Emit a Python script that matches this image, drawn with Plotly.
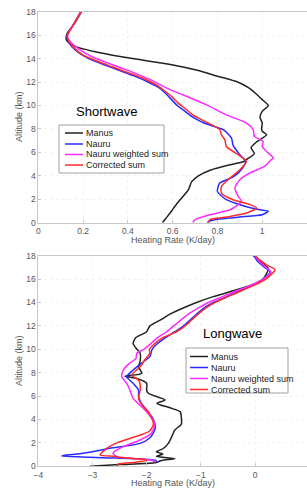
import plotly.graph_objects as go

series_names = ["Manus", "Nauru", "Nauru weighted sum", "Corrected sum"]
series_colors = ["#222222", "#2a2aff", "#ff2aff", "#ff2a2a"]

# ---------------- Shortwave (K/day) ----------------
sw_manus_alt = [0, 0.1, 0.5, 1, 1.4, 2, 2.8, 3.5, 4, 4.5, 4.95, 5.2, 5.4, 5.9, 6.4, 6.9, 7.5, 7.8, 8,
                8.5, 9, 9.5, 10, 10.5, 11, 11.5, 12, 12.5, 13, 13.5, 14, 14.5, 15, 15.5, 15.8, 16.2, 17, 18]
sw_manus = [0.555, 0.558, 0.575, 0.595, 0.61, 0.635, 0.67, 0.685, 0.715, 0.77, 0.856, 0.915, 0.93, 0.965,
            0.95, 0.975, 1.02, 1.0, 0.997, 1.0, 0.99, 1.0, 1.027, 1.0, 0.972, 0.94, 0.89, 0.8, 0.71, 0.59,
            0.42, 0.275, 0.17, 0.128, 0.124, 0.13, 0.162, 0.193]

sw_nauru_alt = [0, 0.1, 0.3, 0.48, 0.68, 0.97, 1.1, 1.45, 1.96, 2.67, 3.38, 3.9, 4.6, 5.23, 5.8, 6.6, 7.2,
                7.94, 8.5, 9, 9.5, 10, 10.5, 11, 11.5, 12, 12.5, 13, 13.5, 14, 14.5, 15, 15.5, 16, 17, 18]
sw_nauru = [0.755, 0.76, 0.8, 0.9, 1.0, 1.027, 0.99, 0.915, 0.84, 0.8, 0.81, 0.87, 0.91, 0.925, 0.9, 0.87,
            0.863, 0.826, 0.74, 0.69, 0.655, 0.62, 0.595, 0.57, 0.54, 0.49, 0.43, 0.36, 0.29, 0.225, 0.18,
            0.15, 0.132, 0.13, 0.16, 0.19]

sw_weighted_alt = [0, 0.26, 0.68, 1.1, 1.5, 1.82, 2.24, 2.96, 3.67, 4.24, 4.8, 5.37, 5.52, 6.08, 6.5, 6.94,
                   7.36, 7.94, 8.5, 9.2, 10.07, 10.9, 11.35, 12.2, 12.7, 13.2, 13.7, 14.2, 14.7, 15.2, 15.7,
                   16, 17, 18]
sw_weighted = [0.69, 0.7, 0.766, 0.856, 0.89, 0.908, 0.893, 0.878, 0.9, 0.945, 1.01, 1.04, 1.05, 1.02, 1.0,
               1.004, 0.965, 0.96, 0.93, 0.84, 0.75, 0.647, 0.588, 0.5, 0.44, 0.37, 0.3, 0.235, 0.19, 0.155,
               0.133, 0.13, 0.16, 0.19]

sw_corrected_alt = [0, 0.26, 0.48, 0.83, 1.25, 1.54, 1.96, 2.53, 3.1, 3.81, 4.52, 5.23, 5.8, 6.5, 7.08,
                    7.5, 7.94, 8.64, 9.2, 9.64, 10.2, 10.78, 11.3, 11.77, 12.3, 12.8, 13.3, 13.8, 14.3, 15,
                    15.5, 16, 17, 18]
sw_corrected = [0.76, 0.766, 0.84, 0.93, 0.975, 0.946, 0.87, 0.818, 0.818, 0.856, 0.9, 0.93, 0.893, 0.84,
                0.833, 0.818, 0.81, 0.744, 0.69, 0.662, 0.625, 0.595, 0.56, 0.525, 0.47, 0.4, 0.33, 0.26,
                0.2, 0.155, 0.135, 0.13, 0.16, 0.19]

# ---------------- Longwave (K/day) ----------------
lw_manus_alt = [0, 0.15, 0.3, 0.5, 0.65, 0.85, 1.05, 1.25, 1.5, 1.96, 2.5, 3.1, 3.6, 4.2, 4.67, 5.0, 5.38,
                5.67, 6.24, 6.5, 7.1, 7.5, 7.7, 7.95, 8.5, 9, 9.66, 10, 10.5, 11, 11.5, 12, 12.5, 13, 13.4,
                14, 14.5, 15, 15.5, 16, 16.9, 17.5, 18]
lw_manus = [-3.05, -2.5, -1.85, -1.72, -1.48, -1.82, -1.7, -1.82, -1.7, -1.6, -1.54, -1.48, -1.36, -1.36,
            -1.38, -1.57, -1.81, -1.66, -1.97, -2.0, -2.0, -2.18, -2.4, -2.09, -2.15, -2.12, -2.12, -2.18,
            -2.25, -2.2, -2.0, -1.94, -1.75, -1.57, -1.39, -1.08, -0.77, -0.4, -0.06, 0.15, 0.245, 0.1,
            -0.03]

lw_nauru_alt = [0.35, 0.5, 0.62, 0.72, 0.8, 0.88, 0.98, 1.1, 1.25, 1.54, 1.96, 2.4, 2.82, 3.3, 3.67, 4.2,
                4.8, 5.4, 5.95, 6.52, 7.1, 7.66, 8.23, 8.8, 9.37, 10, 10.5, 11, 11.5, 12, 12.5, 13, 13.5,
                14, 14.5, 15, 15.5, 16, 16.6, 17, 17.5, 18]
lw_nauru = [-1.82, -1.83, -2.1, -2.7, -3.2, -3.57, -3.45, -3.2, -3.0, -2.68, -2.12, -1.95, -1.88, -1.84,
            -1.85, -1.9, -2.0, -2.1, -2.15, -2.15, -2.25, -2.37, -2.25, -2.1, -1.94, -1.9, -1.8, -1.65,
            -1.48, -1.32, -1.2, -1.08, -0.95, -0.77, -0.52, -0.28, -0.03, 0.15, 0.28, 0.18, 0.05, -0.02]

lw_weighted_alt = [0.35, 0.45, 0.55, 0.65, 0.83, 1.11, 1.4, 1.68, 2.25, 2.82, 3.67, 4.8, 5.8, 6.52, 7.1,
                   7.66, 8.23, 8.8, 9.2, 9.66, 10, 10.5, 11, 11.5, 12, 12.5, 13, 13.5, 14, 14.5, 15, 15.5,
                   16, 16.6, 17, 17.5, 18]
lw_weighted = [-1.85, -1.88, -1.95, -2.2, -2.55, -2.62, -2.55, -2.43, -2.12, -1.91, -1.85, -2.03, -2.25,
               -2.31, -2.37, -2.46, -2.43, -2.32, -2.2, -2.18, -2.05, -1.92, -1.8, -1.63, -1.5, -1.37,
               -1.23, -1.06, -0.86, -0.6, -0.34, -0.06, 0.15, 0.3, 0.2, 0.08, 0.0]

lw_corrected_alt = [0, 0.2, 0.35, 0.5, 0.6, 0.75, 0.85, 0.97, 1.3, 1.7, 2.0, 2.4, 2.7, 3.0, 3.5, 3.8, 4.66,
                    5.2, 5.8, 6.52, 7.0, 7.38, 7.8, 8.5, 9.0, 9.66, 10, 10.5, 11, 11.5, 12, 12.5, 13, 13.5,
                    14, 14.5, 15, 15.5, 16, 16.8, 17.2, 17.6, 18]
lw_corrected = [-2.55, -2.52, -2.2, -2.0, -2.06, -2.45, -2.6, -2.86, -2.8, -2.68, -2.55, -2.3, -2.1, -1.95,
                -1.88, -1.88, -1.97, -2.08, -2.15, -2.12, -2.12, -2.15, -2.28, -2.12, -2.05, -1.94, -1.95,
                -1.85, -1.7, -1.45, -1.29, -1.17, -1.05, -0.92, -0.74, -0.5, -0.25, 0.0, 0.2, 0.37, 0.22,
                0.1, 0.0]

sw_ticks = [0, 0.2, 0.4, 0.6, 0.8, 1, 1.2]
sw_ticktext = ["0", "0.2", "0.4", "0.6", "0.8", "1", "1.2"]
lw_ticks = [-4, -3, -2, -1, 0]
alt_ticks = [0, 2, 4, 6, 8, 10, 12, 14, 16, 18]

W, H = 307, 488
FONT = "Liberation Sans, Arial, sans-serif"
fig = go.Figure()

sw = [(sw_manus_alt, sw_manus), (sw_nauru_alt, sw_nauru), (sw_weighted_alt, sw_weighted),
      (sw_corrected_alt, sw_corrected)]
lw = [(lw_manus_alt, lw_manus), (lw_nauru_alt, lw_nauru), (lw_weighted_alt, lw_weighted),
      (lw_corrected_alt, lw_corrected)]

for i, (a, v) in enumerate(sw):
    fig.add_trace(go.Scatter(x=v, y=a, mode="lines", name=series_names[i], showlegend=False,
                             line=dict(color=series_colors[i], width=1.5, shape="spline", smoothing=0.6),
                             xaxis="x", yaxis="y"))
for i, (a, v) in enumerate(lw):
    fig.add_trace(go.Scatter(x=v, y=a, mode="lines", name=series_names[i], showlegend=False,
                             line=dict(color=series_colors[i], width=1.5, shape="spline", smoothing=0.6),
                             xaxis="x2", yaxis="y2"))

axis_common = dict(showline=True, linecolor="#c8c8c8", linewidth=1, automargin=False,
                   ticks="inside", ticklen=3, tickcolor="#c8c8c8",
                   showgrid=True, gridcolor="#f3f3f3", griddash="dot", zeroline=False,
                   tickfont=dict(family=FONT, size=8.5, color="#555555"))


def px(x):
    return x / W


def py(y):
    return 1 - y / H


shapes = []
annotations = []


def note(text, x, y, size, color, angle=0, xanchor="center"):
    annotations.append(dict(text=text, x=px(x), y=py(y), xref="paper", yref="paper", showarrow=False,
                            xanchor=xanchor, yanchor="middle", textangle=angle,
                            font=dict(family=FONT, size=size, color=color)))


def add_legend(box, rows, line_x0, line_x1, text_x):
    x0, y0, x1, y1 = box
    shapes.append(dict(type="rect", xref="paper", yref="paper", x0=px(x0), x1=px(x1), y0=py(y1), y1=py(y0),
                       line=dict(color="#a0a0a0", width=1), fillcolor="white", layer="above"))
    for i, ry in enumerate(rows):
        shapes.append(dict(type="line", xref="paper", yref="paper", x0=px(line_x0), x1=px(line_x1),
                           y0=py(ry), y1=py(ry), line=dict(color=series_colors[i], width=1.5),
                           layer="above"))
        note(series_names[i], text_x, ry, 9, "#222222", xanchor="left")


add_legend((59, 125, 164, 173), [133, 144, 154.5, 165], 65, 83, 83.5)
add_legend((186, 348, 288, 393), [356.5, 367.5, 378.5, 389.5], 190, 208, 208.5)

note("Shortwave", 106, 111, 13, "black")
note("Longwave", 232, 333, 13, "black")
note("Heating Rate (K/day)", 172.5, 239.5, 9, "#555555")
note("Heating Rate (K/day)", 172.5, 483, 9, "#555555")
note("Altitude (km)", 19, 117, 9, "#555555", angle=-90)
note("Altitude (km)", 19, 361, 9, "#555555", angle=-90)

fig.update_layout(
    width=W, height=H, margin=dict(l=0, r=0, t=0, b=0, autoexpand=False),
    paper_bgcolor="white", plot_bgcolor="white", showlegend=False,
    xaxis=dict(domain=[px(38.33), 1.0], range=[0, 1.2], tickvals=sw_ticks, ticktext=sw_ticktext,
               anchor="y", mirror=True, **axis_common),
    yaxis=dict(domain=[py(222.7), py(11.7)], range=[0, 18], tickvals=alt_ticks, anchor="x", mirror=False,
               **axis_common),
    xaxis2=dict(domain=[px(38.33), 1.0], range=[-4, 0.96], tickvals=lw_ticks, anchor="y2", mirror=True,
                **axis_common),
    yaxis2=dict(domain=[py(466.3), py(255.7)], range=[0, 18], tickvals=alt_ticks, anchor="x2", mirror=False,
                **axis_common),
    shapes=shapes,
    annotations=annotations,
)

fig.write_html("out.html", config={"displayModeBar": False},
               post_script="document.body.style.margin='0';document.body.style.padding='0';"
                           "document.body.style.overflow='hidden';")
